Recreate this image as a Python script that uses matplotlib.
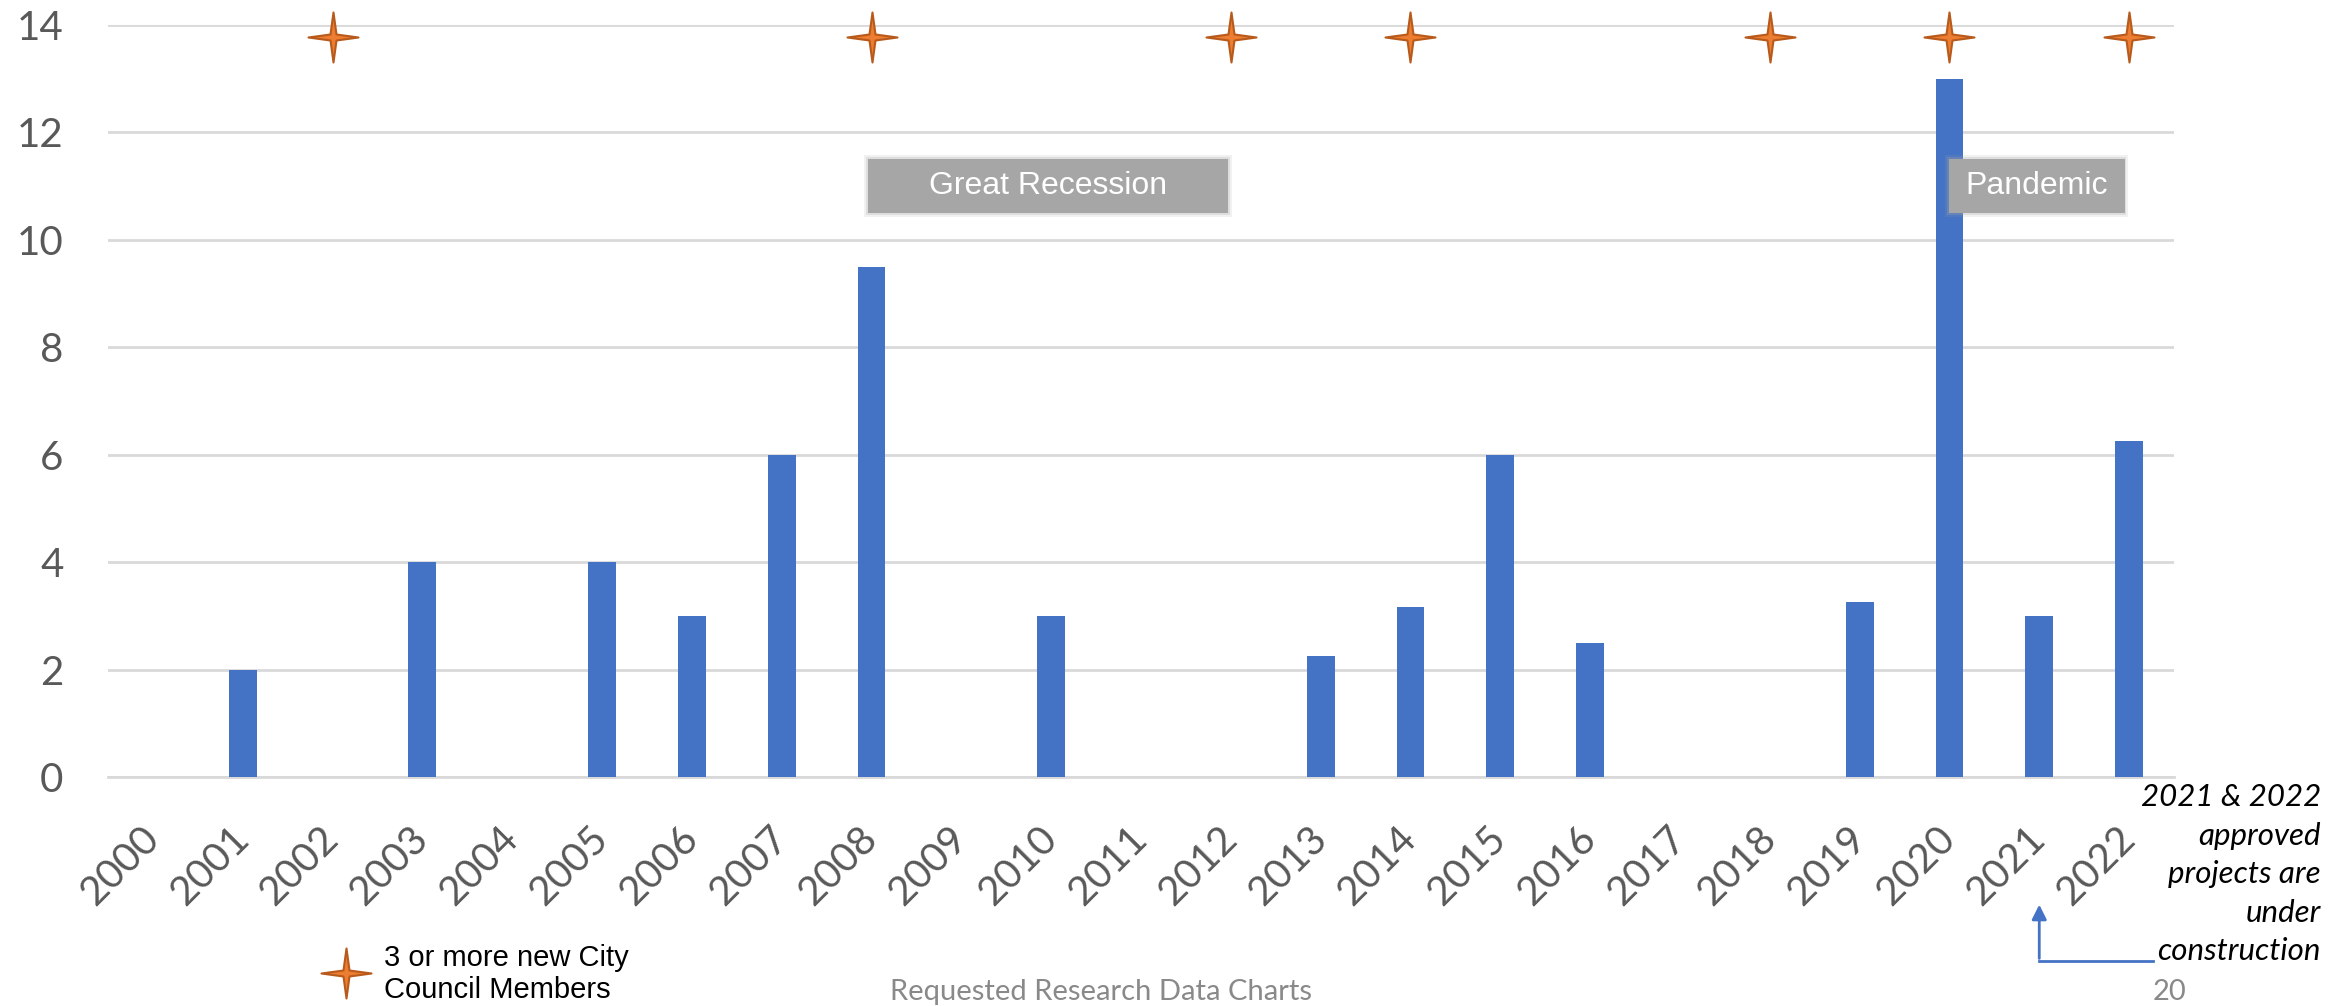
import matplotlib.pyplot as plt
import numpy as np
from matplotlib.path import Path
from matplotlib.patches import Rectangle

# Chart data
years = [str(y) for y in range(2000, 2023)]
projects = [0, 2, 0, 4, 0, 4, 3, 6, 9.5, 0, 3, 0, 0, 2.25, 3.17, 6, 2.5, 0, 0, 3.25, 13, 3, 6.25]
council_years = ['2002', '2008', '2012', '2014', '2018', '2020', '2022']
star_level = 13.78

bar_color = '#4472C4'
star_face = '#ED7D31'
star_edge = '#B85A1B'
grid_color = '#D9D9D9'
tick_color = '#595959'

# 4 pointed star marker
ang = np.deg2rad(90 + 45 * np.arange(8))
rad = np.where(np.arange(8) % 2 == 0, 1.0, 0.17)
verts = np.column_stack([rad * np.cos(ang), rad * np.sin(ang)])
verts = np.vstack([verts, verts[:1]])
codes = [Path.MOVETO] + [Path.LINETO] * 7 + [Path.CLOSEPOLY]
star = Path(verts, codes)

fig = plt.figure(figsize=(23.48, 10.06), dpi=100)
ax = fig.add_axes([108 / 2348, 1 - 777 / 1006, (2174 - 108) / 2348, (777 - 25) / 1006])

x = np.arange(len(years))
ax.bar(x, projects, width=0.31, color=bar_color, zorder=3)

sx = [years.index(y) for y in council_years]
ax.plot(sx, [star_level] * len(sx), linestyle='none', marker=star, markersize=36,
        markerfacecolor=star_face, markeredgecolor=star_edge, markeredgewidth=1.5,
        zorder=5, clip_on=False)

ax.set_xlim(-0.5, len(years) - 0.5)
ax.set_ylim(0, 14)
ax.set_yticks(range(0, 15, 2))
ax.set_xticks(x)
ax.set_xticklabels(years, rotation=45, ha='right', va='center', rotation_mode='anchor')
ax.tick_params(axis='both', length=0, labelsize=29, colors=tick_color)
ax.tick_params(axis='y', pad=32)
ax.tick_params(axis='x', pad=40)
for lab in ax.get_xticklabels() + ax.get_yticklabels():
    lab.set_fontfamily('Lato')
    lab.set_color(tick_color)

ax.grid(axis='y', color=grid_color, linewidth=2, zorder=0)
for s in ['top', 'right', 'left']:
    ax.spines[s].set_visible(False)
ax.spines['bottom'].set_color(grid_color)
ax.spines['bottom'].set_linewidth(2)

# shaded label boxes
def label_box(x0, x1, y0, y1, text):
    for off, a in [(0.04, 0.15), (0.02, 0.25)]:
        ax.add_patch(Rectangle((x0 - off, y0 - off * 2), x1 - x0 + 2 * off, y1 - y0 + 4 * off,
                               facecolor='#A6A6A6', alpha=a, edgecolor='none', zorder=6))
    ax.add_patch(Rectangle((x0, y0), x1 - x0, y1 - y0, facecolor='#A6A6A6',
                           edgecolor='none', zorder=6))
    ax.text((x0 + x1) / 2, (y0 + y1) / 2, text, ha='center', va='center', color='white',
            fontsize=23, family='Liberation Sans', zorder=7)

label_box(7.96, 11.97, 10.5, 11.5, 'Great Recession')
label_box(19.99, 21.95, 10.5, 11.5, 'Pandemic')

# annotation on the right
notes = ['2021 & 2022', 'approved', 'projects are', 'under', 'construction']
for i, line in enumerate(notes):
    fig.text(2321 / 2348, 1 - (797 + i * 38.5) / 1006, line, ha='right', va='center',
             fontsize=22.5, style='italic', family='Lato', color='black')

ax.annotate('', xy=(21, -0.166), xycoords=('data', 'axes fraction'),
            xytext=(21, -0.245), textcoords=('data', 'axes fraction'),
            arrowprops=dict(arrowstyle='-|>', color=bar_color, lw=2, mutation_scale=22))
ax.plot([21, 22.27], [-0.245, -0.245], color=bar_color, lw=2,
        transform=ax.get_xaxis_transform(), clip_on=False)

# legend for the stars
fig.lines.append(plt.Line2D([346 / 2348], [1 - 973 / 1006], transform=fig.transFigure,
                            linestyle='none', marker=star, markersize=36,
                            markerfacecolor=star_face, markeredgecolor=star_edge,
                            markeredgewidth=1.5))
fig.text(384 / 2348, 1 - 958 / 1006, '3 or more new City', fontsize=21,
         family='Liberation Sans', va='center', ha='left')
fig.text(384 / 2348, 1 - 990 / 1006, 'Council Members', fontsize=21,
         family='Liberation Sans', va='center', ha='left')

# footer
fig.text(1101 / 2348, 1 - 992 / 1006, 'Requested Research Data Charts', fontsize=21,
         family='Lato', color='#898989', ha='center', va='center')
fig.text(2170 / 2348, 1 - 992 / 1006, '20', fontsize=21, family='Lato',
         color='#898989', ha='center', va='center')

fig.savefig('out.png', dpi=100)
